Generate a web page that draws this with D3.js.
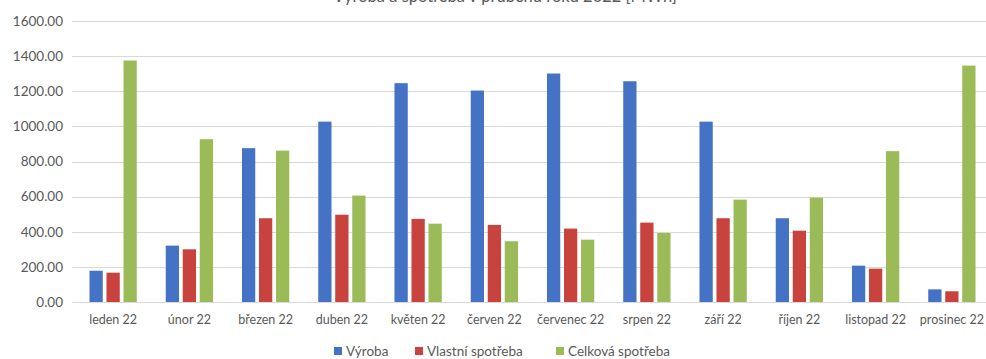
<!DOCTYPE html>
<html>
<head>
<meta charset="utf-8">
<script src="https://cdn.jsdelivr.net/npm/d3@7"></script>
<style>
  html, body { margin: 0; padding: 0; background: #ffffff; }
  svg { display: block; font-family: Lato, "Open Sans", sans-serif; }
</style>
</head>
<body>
<svg id="chart" width="986" height="359"></svg>
<script>
// Monthly production and consumption, 2022 (MWh)
const months = ["leden 22", "únor 22", "březen 22", "duben 22", "květen 22", "červen 22",
                "červenec 22", "srpen 22", "září 22", "říjen 22", "listopad 22", "prosinec 22"];
const seriesNames = ["Výroba", "Vlastní spotřeba", "Celková spotřeba"];
const vyroba = [178, 321, 876, 1027, 1246, 1204, 1301, 1257, 1027, 477, 207, 72];
const vlastniSpotreba = [167, 300, 477, 497, 473, 439, 418, 452, 477, 406, 190, 61];
const celkovaSpotreba = [1375, 927, 862, 606, 446, 346, 355, 393, 583, 594, 859, 1346];
const yTicks = [0, 200, 400, 600, 800, 1000, 1200, 1400, 1600];
const chartTitle = "Výroba a spotřeba v průběhu roku 2022 [MWh]";

const colors = ["#4472C4", "#C8423E", "#9BBB59"];
const seriesValues = [vyroba, vlastniSpotreba, celkovaSpotreba];

const svg = d3.select("#chart");
const margin = { left: 75, right: -4, top: 21, bottom: 57 };
const W = 986, H = 359;
const textColor = "#595959";

const x = d3.scaleBand().domain(months).range([margin.left, W - margin.right]).paddingInner(0).paddingOuter(0);
const y = d3.scaleLinear().domain([0, 1600]).range([H - margin.bottom, margin.top]);
const xs = d3.scaleBand().domain(seriesNames).range([0, x.bandwidth() * 0.62]).paddingInner(0.22);
const groupOffset = x.bandwidth() * 0.19;

// title (sits partly above the visible area)
svg.append("text")
  .attr("x", 505).attr("y", 2)
  .attr("text-anchor", "middle")
  .attr("font-size", 16.5)
  .attr("fill", textColor)
  .text(chartTitle);

// horizontal gridlines
svg.append("g")
  .selectAll("line")
  .data(yTicks)
  .join("line")
  .attr("x1", margin.left - 3).attr("x2", W)
  .attr("y1", d => Math.round(y(d)) + 0.5).attr("y2", d => Math.round(y(d)) + 0.5)
  .attr("stroke", "#d9d9d9").attr("stroke-width", 1);

// y axis labels
const yAxis = d3.axisLeft(y).tickValues(yTicks).tickFormat(d3.format(".2f")).tickSize(0).tickPadding(0);
svg.append("g")
  .attr("transform", `translate(${63},0)`)
  .call(yAxis)
  .call(g => g.select(".domain").remove())
  .call(g => g.selectAll("text").attr("font-size", 13.5).attr("fill", textColor).attr("font-family", "Lato, sans-serif"));

// bars
const groups = svg.append("g")
  .selectAll("g")
  .data(months)
  .join("g")
  .attr("transform", d => `translate(${x(d) + groupOffset},0)`);

groups.selectAll("rect")
  .data((m, i) => seriesNames.map((s, k) => ({ s, k, v: seriesValues[k][i] })))
  .join("rect")
  .attr("x", d => xs(d.s))
  .attr("width", xs.bandwidth())
  .attr("y", d => y(d.v))
  .attr("height", d => y(0) - y(d.v))
  .attr("fill", d => colors[d.k]);

// x axis labels
const xAxis = d3.axisBottom(x).tickSize(0).tickPadding(0);
svg.append("g")
  .attr("transform", `translate(0,${y(0) + 13})`)
  .call(xAxis)
  .call(g => g.select(".domain").remove())
  .call(g => g.selectAll("text").attr("font-size", 12.5).attr("fill", textColor).attr("font-family", "Lato, sans-serif"));

// legend
const legendX = [334, 415, 556];
const legend = svg.append("g")
  .selectAll("g")
  .data(seriesNames)
  .join("g")
  .attr("transform", (d, i) => `translate(${legendX[i]},351)`);
legend.append("rect")
  .attr("x", 0).attr("y", -4).attr("width", 8).attr("height", 8)
  .attr("fill", (d, i) => colors[i]);
legend.append("text")
  .attr("x", 12).attr("y", 4.5)
  .attr("font-size", 13.5)
  .attr("fill", textColor)
  .text(d => d);
</script>
</body>
</html>
